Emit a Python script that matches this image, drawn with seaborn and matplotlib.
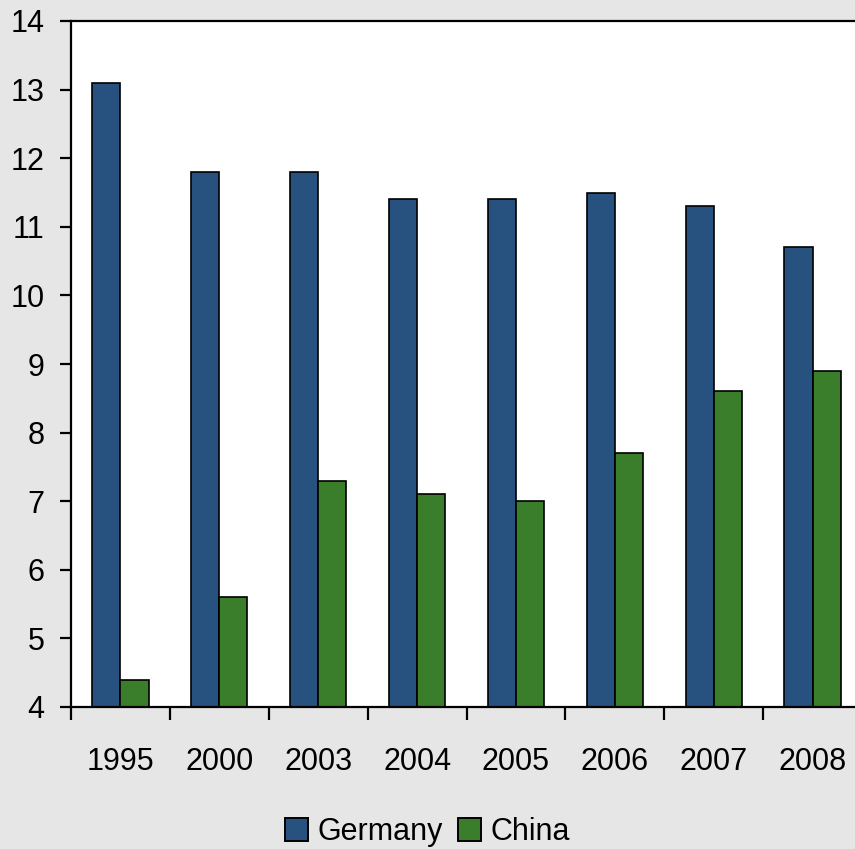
import matplotlib
matplotlib.use("Agg")
import matplotlib.pyplot as plt
import seaborn as sns
import pandas as pd

years = ["1995", "2000", "2003", "2004", "2005", "2006", "2007", "2008"]
germany = [13.1, 11.8, 11.8, 11.4, 11.4, 11.5, 11.3, 10.7]
china = [4.4, 5.6, 7.3, 7.1, 7.0, 7.7, 8.6, 8.9]
series_names = ["Germany", "China"]
colors = ["#27527f", "#3a7d2a"]
y_ticks = [4, 5, 6, 7, 8, 9, 10, 11, 12, 13, 14]

df = pd.DataFrame({
    "Year": years * 2,
    "Value": germany + china,
    "Country": [series_names[0]] * len(years) + [series_names[1]] * len(years),
})

sns.set_style("white")
plt.rcParams["font.family"] = ["Liberation Sans", "DejaVu Sans"]
plt.rcParams["text.color"] = "black"
plt.rcParams["xtick.color"] = "black"
plt.rcParams["ytick.color"] = "black"

bg = "#e6e6e6"
fig = plt.figure(figsize=(8.55, 8.49), dpi=100, facecolor=bg)
ax = fig.add_axes([71 / 855, 1 - 707 / 849, 791 / 855, 686 / 849])
ax.set_facecolor("white")

sns.barplot(data=df, x="Year", y="Value", hue="Country", order=years,
            hue_order=series_names, palette=colors, width=0.57,
            edgecolor="black", linewidth=1.2, saturation=1, ax=ax, legend=False)

ax.set_ylim(4, 14)
ax.set_xlim(-0.5, len(years) - 0.5)
ax.set_yticks(y_ticks)
ax.set_xlabel("")
ax.set_ylabel("")

for side in ["left", "top", "bottom"]:
    ax.spines[side].set_visible(True)
    ax.spines[side].set_color("black")
    ax.spines[side].set_linewidth(1.6)
ax.spines["right"].set_visible(False)

ax.tick_params(axis="y", which="major", direction="out", length=8, width=1.6,
               color="black", labelcolor="black", labelsize=22, pad=11, left=True)
ax.tick_params(axis="x", which="major", length=0, labelsize=22, labelcolor="black", pad=29)
ax.set_xticks([i - 0.5 for i in range(len(years) + 1)], minor=True)
ax.tick_params(axis="x", which="minor", direction="out", length=9, width=1.6,
               color="black", bottom=True)

handles = [plt.Rectangle((0, 0), 1, 1, facecolor=c, edgecolor="black", linewidth=1.4)
           for c in colors]
fig.legend(handles, series_names, loc="center", bbox_to_anchor=(0.5, 1 - 832 / 849),
           ncol=2, frameon=False, fontsize=22, handlelength=0.75, handleheight=0.75,
           handletextpad=0.3, columnspacing=0.5, labelcolor="black")

fig.savefig("out.png", dpi=100, facecolor=bg)
